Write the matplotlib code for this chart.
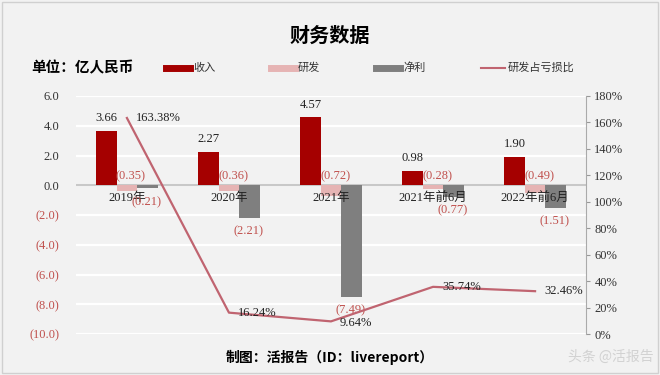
import matplotlib
matplotlib.use("Agg")
import matplotlib.pyplot as plt
from matplotlib.lines import Line2D
import numpy as np

plt.rcParams["font.family"] = ["Liberation Serif", "Noto Sans CJK SC", "DejaVu Sans"]

categories = ["2019年", "2020年", "2021年", "2021年前6月", "2022年前6月"]
revenue = [3.66, 2.27, 4.57, 0.98, 1.90]
rnd = [-0.35, -0.36, -0.72, -0.28, -0.49]
profit = [-0.21, -2.21, -7.49, -0.77, -1.51]
ratio = [163.38, 16.24, 9.64, 35.74, 32.46]
left_ticks = [6, 4, 2, 0, -2, -4, -6, -8, -10]
right_ticks = [0, 20, 40, 60, 80, 100, 120, 140, 160, 180]

RED = "#a50000"
PINK = "#e6b4b4"
GRAY = "#7f7f7f"
LINE = "#c06470"
NEG = "#c0504d"
BG = "#f2f2f2"
CJK = ["Noto Sans CJK SC", "DejaVu Sans"]
FS = 9


def fmt(v, d=2):
    return f"({abs(v):.{d}f})" if v < 0 else f"{v:.{d}f}"


fig = plt.figure(figsize=(6.6, 3.75), dpi=100, facecolor=BG)
ax = fig.add_axes([0.115, 0.109, 0.773, 0.635], facecolor=BG)
ax2 = ax.twinx()

x = np.arange(len(categories))
w = 0.2
ax.bar(x - w, revenue, w, color=RED, zorder=3)
ax.bar(x, rnd, w, color=PINK, zorder=3)
ax.bar(x + w, profit, w, color=GRAY, zorder=3)

ax.set_xlim(-0.5, len(categories) - 0.5)
ax.set_ylim(-10, 6)
ax.set_yticks(left_ticks)
ax.set_yticklabels([fmt(t, 1) for t in left_ticks], fontsize=FS)
for lbl, t in zip(ax.get_yticklabels(), left_ticks):
    lbl.set_color(NEG if t < 0 else "#333333")
ax.tick_params(axis="y", length=0, pad=12)
ax.set_xticks([])
for t in left_ticks:
    ax.axhline(t, color="white", lw=1.6, zorder=1)
ax.axhline(0, color="#c8c8c8", lw=1.5, zorder=2)
for s in ax.spines.values():
    s.set_visible(False)

# category labels sit on the zero line
for xi, c in zip(x, categories):
    ax.text(xi, -0.85, c, ha="center", va="center", fontsize=FS, color="#222222", zorder=5)

# data labels
for xi, v in zip(x, revenue):
    ax.text(xi - w, v + 0.85, fmt(v), ha="center", va="center", fontsize=FS, color="#222222", zorder=5)
for xi, v in zip(x, rnd):
    ax.text(xi + 0.04, 0.6, fmt(v), ha="center", va="center", fontsize=FS, color=NEG, zorder=5)
for xi, v in zip(x, profit):
    ax.text(xi + 0.19, v - 0.9, fmt(v), ha="center", va="center", fontsize=FS, color=NEG, zorder=5)

ax2.plot(x, ratio, color=LINE, lw=1.6, zorder=4)
ax2.set_ylim(0, 180)
ax2.set_yticks(right_ticks)
ax2.set_yticklabels([f"{t}%" for t in right_ticks], fontsize=FS, color="#333333")
ax2.tick_params(axis="y", length=3, color="#999999", pad=3)
for k, s in ax2.spines.items():
    s.set_visible(k == "right")
ax2.spines["right"].set_color("#aaaaaa")
offs = [(0.31, 0), (0.28, 0), (0.24, -1), (0.28, 0), (0.28, 0)]
for xi, v, (dx, dy) in zip(x, ratio, offs):
    ax2.text(xi + dx, v + dy, f"{v:.2f}%", ha="center", va="center", fontsize=FS, color="#222222", zorder=6)

# header and legend
fig.text(0.5, 0.905, "财务数据", ha="center", va="center", fontsize=14.5, fontweight="bold", family=CJK)
fig.text(0.048, 0.82, "单位：亿人民币", ha="left", va="center", fontsize=10.5, fontweight="bold", family=CJK)
legend_items = [("收入", RED, 5), ("研发", PINK, 5), ("净利", GRAY, 5), ("研发占亏损比", LINE, 1.5)]
for i, (name, col, lw) in enumerate(legend_items):
    x0 = (166 + 105 * i) / 660
    fig.add_artist(Line2D([x0, x0 + 24 / 660], [0.82, 0.82], color=col, lw=lw))
    fig.text(x0 + 27 / 660, 0.82, name, ha="left", va="center", fontsize=8, family=CJK, color="#333333")

fig.text(0.5, 0.048, "制图：活报告（ID：livereport）", ha="center", va="center", fontsize=10,
         fontweight="bold", family=CJK)
fig.text(0.925, 0.048, "头条 @活报告", ha="center", va="center", fontsize=10, color="#d2d2d2", family=CJK)
fig.add_artist(plt.Rectangle((0.003, 0.005), 0.994, 0.99, transform=fig.transFigure,
                             fill=False, ec="#d0d0d0", lw=1))

fig.savefig("out.png", dpi=100, facecolor=BG)
